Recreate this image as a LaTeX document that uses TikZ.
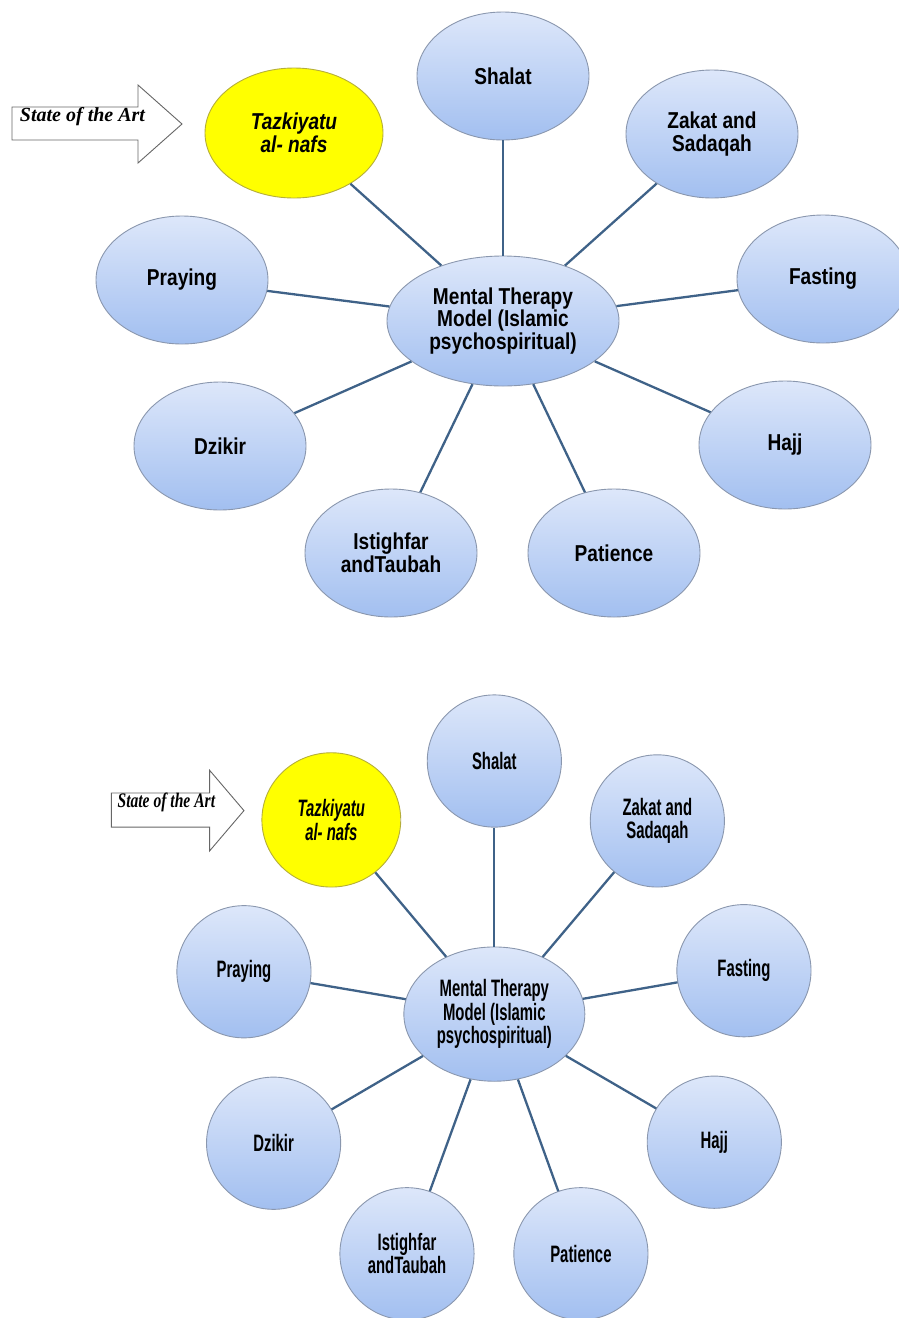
\documentclass[tikz,border=0pt]{standalone}
\usepackage{fontspec}
\setmainfont{Liberation Serif}
\newfontfamily\lblfont[FakeStretch=0.83]{Liberation Sans}
\usetikzlibrary{shapes.geometric}
\definecolor{bubtop}{HTML}{DDE7FA}
\definecolor{bubbot}{HTML}{A2BFF0}
\definecolor{bubedge}{HTML}{8A97AE}
\definecolor{spokecol}{HTML}{3F6288}
\definecolor{yeledge}{HTML}{B5AE3A}
\tikzset{
  bubble/.style={ellipse, draw=bubedge, line width=0.9, top color=bubtop, bottom color=bubbot,
    minimum width=172, minimum height=128, inner sep=0, align=center,
    font=\lblfont\bfseries\fontsize{23}{22.7}\selectfont, text=black},
  hub/.style={bubble, minimum width=232, minimum height=130},
  focus/.style={bubble, top color=yellow, bottom color=yellow, draw=yeledge,
    minimum width=178, minimum height=130, font=\lblfont\bfseries\itshape\fontsize{23}{22.7}\selectfont},
  spoke/.style={draw=spokecol, line width=2.3},
  sotashape/.style={draw=black!60, line width=0.9, fill=white},
  sotatext/.style={font=\bfseries\itshape\fontsize{20}{22}\selectfont, anchor=base, inner sep=0},
}
\newcommand\mtdiagram[1]{%
  \node[hub]    (#1hub)     at (503,321) {Mental Therapy\\Model (Islamic\\psychospiritual)};
  \node[focus]  (#1tazk)    at (294,133) {Tazkiyatu\\al- nafs};
  \node[bubble] (#1shalat)  at (503,76)  {Shalat};
  \node[bubble] (#1zakat)   at (712,134) {Zakat and\\Sadaqah};
  \node[bubble] (#1fasting) at (823,279) {Fasting};
  \node[bubble] (#1hajj)    at (785,445) {Hajj};
  \node[bubble] (#1patience) at (614,553) {Patience};
  \node[bubble] (#1istig)   at (391,553) {Istighfar\\andTaubah};
  \node[bubble] (#1dzikir)  at (220,446) {Dzikir};
  \node[bubble] (#1praying) at (182,280) {Praying};
  \foreach \n in {tazk,shalat,zakat,fasting,hajj,patience,istig,dzikir,praying}
    \draw[spoke] (#1hub) -- (#1\n);
  \draw[sotashape] (12,107) -- (138,107) -- (138,85) -- (182,124) -- (138,163)
    -- (138,140) -- (12,140) -- cycle;
  \node[sotatext] (#1sota) at (82.5,121) {State of the Art};
}
\begin{document}
\begin{tikzpicture}[x=1pt,y=-1pt]
  \useasboundingbox (0,0) rectangle (899,1318);
  \mtdiagram{t}
  \begin{scope}[shift={(102,682.5)}, xscale=0.78, yscale=1.033, transform shape]
    \mtdiagram{b}
  \end{scope}
\end{tikzpicture}
\end{document}
